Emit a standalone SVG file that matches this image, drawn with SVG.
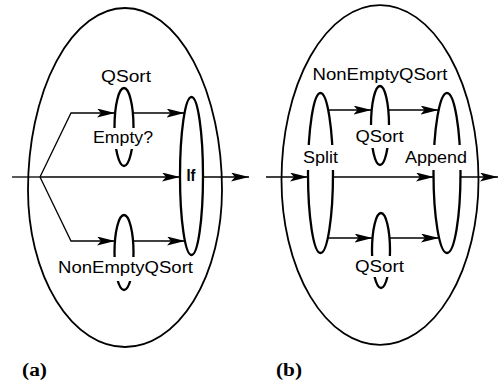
<svg xmlns="http://www.w3.org/2000/svg" width="498" height="381" viewBox="0 0 498 381">
<defs>
<marker id="ah" markerUnits="userSpaceOnUse" markerWidth="19" markerHeight="10" refX="18" refY="4.5" orient="auto">
<path d="M0,0 L18,4.5 L0,9 L4,4.5 z" fill="#000"/>
</marker>
</defs>
<style>
.outer{fill:none;stroke:#000;stroke-width:1.8}
.node{fill:none;stroke:#000;stroke-width:2.3}
.mask{fill:#fff;stroke:none}
.lbl{font-family:"Liberation Sans",Arial,sans-serif;font-size:16px;fill:#000;text-anchor:middle}
.bold{font-weight:bold}
.cap{font-family:"Liberation Serif","Times New Roman",serif;font-size:18px;font-weight:bold;fill:#000}
.edge{fill:none;stroke:#000;stroke-width:1.3}
.arr{marker-end:url(#ah)}
</style>
<rect width="498" height="381" fill="#fff"/>

<g id="panel-a">
<path class="outer" d="M28,190 A97,182 0 0 1 222,190 A97,157 0 0 1 28,190 z"/>
</g>
<g id="panel-b">
<path class="outer" d="M281.5,180 A98.5,175 0 0 1 478.5,180 A98.5,165 0 0 1 281.5,180 z"/>
</g>

<g id="connectors">
<polyline class="edge" points="12,177 40,177"/>
<line class="edge arr" x1="40" y1="177" x2="180" y2="177"/>
<polyline class="edge arr" points="40,177 71,113 115,113"/>
<line class="edge arr" x1="133" y1="113" x2="184.5" y2="113"/>
<polyline class="edge arr" points="40,177 71,241 115,241"/>
<line class="edge arr" x1="133" y1="241" x2="185" y2="241"/>
<line class="edge arr" x1="203" y1="177" x2="249" y2="177"/>
<line class="edge arr" x1="266" y1="177" x2="308" y2="177"/>
<line class="edge arr" x1="333" y1="177" x2="434" y2="177"/>
<line class="edge arr" x1="328.5" y1="110" x2="371.5" y2="110"/>
<line class="edge arr" x1="389" y1="110" x2="438.5" y2="110"/>
<line class="edge arr" x1="328" y1="238" x2="372.5" y2="238"/>
<line class="edge arr" x1="390" y1="238" x2="439" y2="238"/>
<line class="edge arr" x1="460.5" y1="177" x2="498" y2="177"/>
</g>

<g id="qsort-a">
<ellipse class="node" cx="124" cy="127" rx="9.5" ry="39"/>
<rect class="mask" x="100" y="128" width="50" height="21"/>
<text class="lbl" x="126" y="82" textLength="50" lengthAdjust="spacingAndGlyphs">QSort</text>
<text class="lbl" x="123" y="143" textLength="60" lengthAdjust="spacingAndGlyphs">Empty?</text>
</g>
<g id="nonemptyqsort-a">
<ellipse class="node" cx="124" cy="252.5" rx="9.5" ry="37.5"/>
<rect class="mask" x="60" y="257" width="131" height="24"/>
<text class="lbl" x="125.5" y="273" textLength="135" lengthAdjust="spacingAndGlyphs">NonEmptyQSort</text>
</g>
<g id="if-a">
<ellipse class="node" cx="191.5" cy="176" rx="11.5" ry="79"/>
<text class="lbl bold" x="191" y="181" font-size="17" textLength="9" lengthAdjust="spacingAndGlyphs">If</text>
</g>

<g id="split-b">
<ellipse class="node" cx="320.5" cy="173" rx="12.5" ry="80"/>
<rect class="mask" x="301" y="145" width="40" height="25"/>
<text class="lbl" x="320.5" y="163" textLength="35" lengthAdjust="spacingAndGlyphs">Split</text>
</g>
<g id="qsort-b-top">
<ellipse class="node" cx="380" cy="125.5" rx="9" ry="39.5"/>
<rect class="mask" x="352" y="125" width="56" height="23"/>
<text class="lbl" x="380" y="80" textLength="135" lengthAdjust="spacingAndGlyphs">NonEmptyQSort</text>
<text class="lbl" x="379.5" y="142" textLength="48" lengthAdjust="spacingAndGlyphs">QSort</text>
</g>
<g id="qsort-b-bottom">
<ellipse class="node" cx="381" cy="250.5" rx="9" ry="37.5"/>
<rect class="mask" x="352" y="256" width="56" height="21"/>
<text class="lbl" x="379.5" y="272" textLength="49" lengthAdjust="spacingAndGlyphs">QSort</text>
</g>
<g id="append-b">
<ellipse class="node" cx="447" cy="173" rx="13.5" ry="80"/>
<rect class="mask" x="403" y="145" width="66" height="25"/>
<text class="lbl" x="436" y="163" textLength="62" lengthAdjust="spacingAndGlyphs">Append</text>
</g>

<g id="captions">
<text class="cap" x="22" y="376" textLength="25" lengthAdjust="spacingAndGlyphs">(a)</text>
<text class="cap" x="276" y="376" textLength="26" lengthAdjust="spacingAndGlyphs">(b)</text>
</g>
</svg>
